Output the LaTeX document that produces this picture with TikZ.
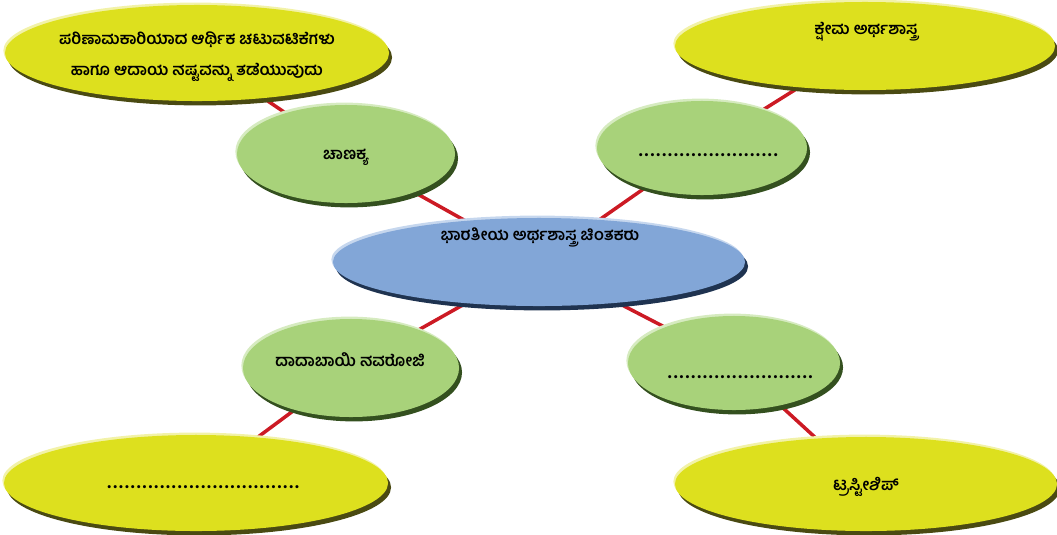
\documentclass[tikz,border=0pt]{standalone}
\usepackage{fontspec}
\newfontfamily\kn[Script=Kannada]{Hind Mysuru}
\usetikzlibrary{shapes.geometric,backgrounds}
\definecolor{ylw}{HTML}{DDE01E}
\definecolor{ylwdark}{HTML}{4A4A12}
\definecolor{ylwlight}{HTML}{F2F2A8}
\definecolor{grn}{HTML}{A8D27A}
\definecolor{grndark}{HTML}{34501F}
\definecolor{grnlight}{HTML}{D6EBC0}
\definecolor{blu}{HTML}{82A6D7}
\definecolor{bludark}{HTML}{1F3350}
\definecolor{blulight}{HTML}{C6D7EE}
\definecolor{con}{HTML}{CC1A24}
\newcommand\dotrow[1]{{\fontsize{14}{14}\selectfont\foreach \i in {1,...,#1}{.\kern1.05pt}}}
\tikzset{
  bubble/.style={ellipse, inner sep=0pt},
  b3d/.style n args={3}{bubble, fill=#1,
    preaction={fill=#2, transform canvas={shift={(0.075cm,-0.11cm)}}},
    preaction={fill=#3, transform canvas={shift={(-0.04cm,0.06cm)}}}},
  yb/.style={b3d={ylw}{ylwdark}{ylwlight}},
  gb/.style={b3d={grn}{grndark}{grnlight}},
  bb/.style={b3d={blu}{bludark}{blulight}},
  txt/.style={font=\kn\bfseries\fontsize{11.5}{22}\selectfont, align=center, inner sep=0pt},
  link/.style={draw=con, line width=2.5pt},
}
\begin{document}
\begin{tikzpicture}[x=0.025cm, y=-0.025cm]
\useasboundingbox (0,0) rectangle (1057,534);
% ellipses
\node[yb, minimum width=9.6cm, minimum height=2.4cm] (ytl) at (197,53) {};
\node[yb, minimum width=9.5cm, minimum height=2.2cm] (ytr) at (865,46) {};
\node[gb, minimum width=5.45cm, minimum height=2.45cm] (gtl) at (346,154) {};
\node[gb, minimum width=5.25cm, minimum height=2.35cm] (gtr) at (702,148) {};
\node[bb, minimum width=10.3cm, minimum height=2.2cm] (ctr) at (539,262) {};
\node[gb, minimum width=5.4cm, minimum height=2.45cm] (gbl) at (351,368) {};
\node[gb, minimum width=5.3cm, minimum height=2.35cm] (gbr) at (734,363) {};
\node[yb, minimum width=9.6cm, minimum height=2.4cm] (ybl) at (196,483) {};
\node[yb, minimum width=9.55cm, minimum height=2.35cm] (ybr) at (866,484) {};
% connectors
\begin{scope}[on background layer]
\draw[link] (ytl.center) -- (gtl.center);
\draw[link] (gtl.center) -- (ctr.center);
\draw[link] (ytr.center) -- (gtr.center);
\draw[link] (gtr.center) -- (ctr.center);
\draw[link] (ctr.center) -- (gbl.center);
\draw[link] (gbl.center) -- (ybl.center);
\draw[link] (ctr.center) -- (gbr.center);
\draw[link] (gbr.center) -- (ybr.center);
\end{scope}
% texts
\node[txt] (t1) at (197,57) {ಪರಿಣಾಮಕಾರಿಯಾದ ಆರ್ಥಿಕ ಚಟುವಟಿಕೆಗಳು\\ಹಾಗೂ ಆದಾಯ ನಷ್ಟವನ್ನು ತಡೆಯುವುದು};
\node[txt] (t2) at (866,32) {ಕ್ಷೇಮ ಅರ್ಥಶಾಸ್ತ್ರ};
\node[txt] (t3) at (346,157) {ಚಾಣಕ್ಯ};
\node[txt] (t4) at (709,155) {\dotrow{24}};
\node[txt] (t5) at (540,237) {ಭಾರತೀಯ ಅರ್ಥಶಾಸ್ತ್ರ ಚಿಂತಕರು};
\node[txt] (t6) at (350,360) {ದಾದಾಬಾಯಿ ನವರೋಜಿ};
\node[txt] (t7) at (741,377) {\dotrow{25}};
\node[txt] (t8) at (204,487) {\dotrow{33}};
\node[txt] (t9) at (866,487) {ಟ್ರಸ್ಟೀಶಿಪ್};
\end{tikzpicture}
\end{document}
